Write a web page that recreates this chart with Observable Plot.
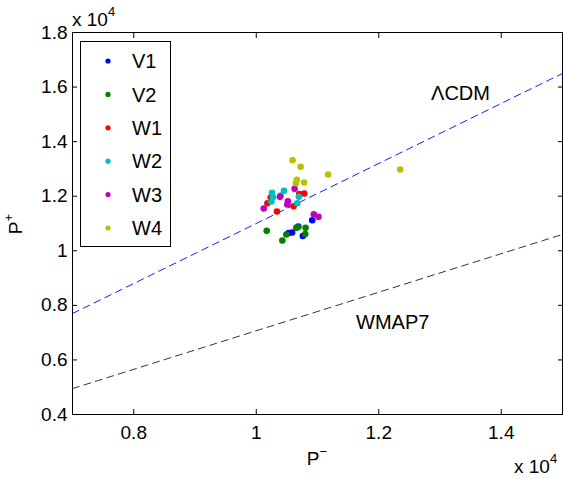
<!DOCTYPE html>
<html><head><meta charset="utf-8">
<script src="https://cdn.jsdelivr.net/npm/d3@7"></script>
<script src="https://cdn.jsdelivr.net/npm/@observablehq/plot@0.6"></script>
<style>body{margin:0;background:#fff} #chart{width:563px;height:479px}</style>
</head><body><div id="chart"></div>
<script>
// Series (P- on x, P+ on y), raw values
const seriesNames = ["V1", "V2", "W1", "W2", "W3", "W4"];
const seriesColors = ["#0000ff", "#008000", "#ff0000", "#00bfbf", "#bf00bf", "#bfbf00"];
const V1_Pminus = [10914, 10686, 10528, 10585, 10761];
const V1_Pplus  = [11120, 10889, 10651, 10669, 10541];
const V2_Pminus = [10171, 10426, 10491, 10654, 10680, 10805, 10800];
const V2_Pplus  = [10731, 10376, 10596, 10841, 10863, 10841, 10614];
const W1_Pminus = [10784, 10702, 10182, 10338, 10610, 10236];
const W1_Pplus  = [12098, 12080, 11743, 11439, 11633, 11952];
const W2_Pminus = [10257, 10452, 10398, 10273, 10247, 10696, 10670];
const W2_Pplus  = [12124, 12201, 12025, 11963, 11805, 11977, 11743];
const W3_Pminus = [10626, 10387, 10517, 10507, 10122, 10940, 11016];
const W3_Pplus  = [12270, 11977, 11816, 11695, 11549, 11340, 11244];
const W4_Pminus = [10593, 10724, 11174, 12350, 10663, 10647, 10780];
const W4_Pplus  = [13318, 13077, 12794, 12978, 12600, 12476, 12501];

// Reference lines
const lineX = [7000, 15000];
const lcdmY = [7700, 16500];
const wmapY = [4950, 10600];

// Ticks
const xTicks = [8000, 10000, 12000, 14000];
const xTickLabels = ["0.8", "1", "1.2", "1.4"];
const yTicks = [4000, 6000, 8000, 10000, 12000, 14000, 16000, 18000];
const yTickLabels = ["0.4", "0.6", "0.8", "1", "1.2", "1.4", "1.6", "1.8"];

// Annotations
const annoLabels = ["\u039BCDM", "WMAP7"];
const annoX = [12854, 11630];
const annoY = [15760, 7370];

const allX = [V1_Pminus, V2_Pminus, W1_Pminus, W2_Pminus, W3_Pminus, W4_Pminus];
const allY = [V1_Pplus, V2_Pplus, W1_Pplus, W2_Pplus, W3_Pplus, W4_Pplus];
const points = [];
seriesNames.forEach((s, i) => allX[i].forEach((x, j) => points.push({series: s, x, y: allY[i][j]})));
const lcdm = lineX.map((x, i) => ({x, y: lcdmY[i]}));
const wmap = lineX.map((x, i) => ({x, y: wmapY[i]}));
const annos = annoLabels.map((t, i) => ({t, x: annoX[i], y: annoY[i]}));

const chart = Plot.plot({
  width: 563, height: 479,
  marginLeft: 72, marginRight: 1, marginTop: 32, marginBottom: 65,
  style: {fontFamily: "'Liberation Sans', Arial, sans-serif", fontSize: "19px", color: "black", background: "white"},
  x: {domain: [7000, 15000]},
  y: {domain: [4000, 18000]},
  color: {domain: seriesNames, range: seriesColors},
  marks: [
    Plot.line(wmap, {x: "x", y: "y", stroke: "black", strokeWidth: 0.8, strokeDasharray: "7,5"}),
    Plot.line(lcdm, {x: "x", y: "y", stroke: "#0000ff", strokeWidth: 0.9, strokeDasharray: "7,5"}),
    Plot.dot(points, {x: "x", y: "y", fill: "series", r: 3.3, stroke: null}),
    Plot.text(annos, {x: "x", y: "y", text: "t", textAnchor: "start", fontSize: 20}),
    Plot.axisX({ticks: xTicks, anchor: "bottom", tickSize: -5, tickPadding: 16, tickFormat: d => xTickLabels[xTicks.indexOf(d)], label: null}),
    Plot.axisX({ticks: xTicks, anchor: "top", tickSize: -5, tickFormat: () => "", label: null}),
    Plot.axisY({ticks: yTicks, anchor: "left", tickSize: -5, tickPadding: 10, tickFormat: d => yTickLabels[yTicks.indexOf(d)], label: null}),
    Plot.axisY({ticks: yTicks, anchor: "right", tickSize: -5, tickFormat: () => "", label: null}),
    Plot.frame({stroke: "black", strokeWidth: 1})
  ]
});
document.getElementById("chart").appendChild(chart);

const svg = d3.select(chart);
// Legend
const lg = svg.append("g").attr("text-anchor", "start");
lg.append("rect").attr("x", 80.5).attr("y", 41.5).attr("width", 90).attr("height", 205)
  .attr("fill", "white").attr("stroke", "black");
seriesNames.forEach((n, i) => {
  const cy = 61 + i * 33.4;
  lg.append("circle").attr("cx", 108).attr("cy", cy).attr("r", 2.6).attr("fill", seriesColors[i]);
  lg.append("text").attr("x", 132).attr("y", cy).attr("dy", "0.36em").attr("font-size", 20).text(n);
});
// Exponent labels
function expo(x, y) {
  const t = svg.append("text").attr("x", x).attr("y", y).attr("font-size", 19).attr("text-anchor", "start");
  t.append("tspan").text("x 10");
  t.append("tspan").attr("dy", -10).attr("font-size", 13).text("4");
}
expo(72, 26);
expo(514, 473);
// Axis labels
const xl = svg.append("text").attr("x", 317).attr("y", 465).attr("text-anchor", "middle").attr("font-size", 19);
xl.append("tspan").text("P");
xl.append("tspan").attr("dy", -9).attr("font-size", 13).text("\u2212");
const yl = svg.append("text").attr("transform", "translate(22,224) rotate(-90)").attr("text-anchor", "middle").attr("font-size", 19);
yl.append("tspan").text("P");
yl.append("tspan").attr("dy", -9).attr("font-size", 13).text("+");
</script>
</body></html>
